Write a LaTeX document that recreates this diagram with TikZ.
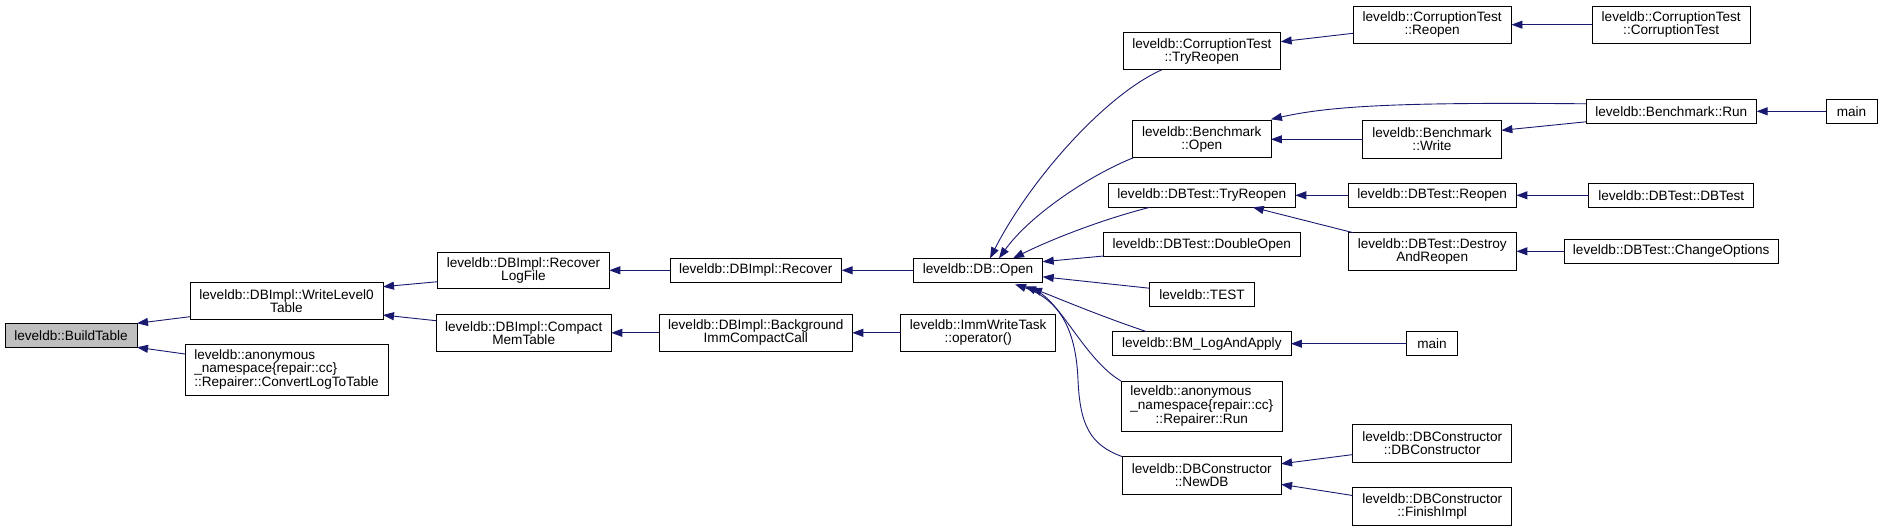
\documentclass[tikz,border=0pt]{standalone}
\usepackage{fontspec}
\setmainfont{Liberation Sans}
\usetikzlibrary{arrows.meta,calc}
\definecolor{navyc}{HTML}{191970}
\definecolor{grayfill}{HTML}{BFBFBF}
\tikzset{
  box/.style={draw=black, line width=0.9pt, inner sep=0pt, outer sep=0pt, align=center,
    font=\fontsize{13.6}{13.33}\selectfont},
  calls/.style={draw=navyc, line width=0.9pt, {Triangle[length=11pt,width=8pt]}-}
}
\begin{document}
\begin{tikzpicture}[x=1pt,y=-1pt]
\useasboundingbox (0,0) rectangle (1882,531);
\fill[white] (0,0) rectangle (1882,531);
% column 0
\node[box, fill=grayfill, minimum width=132, minimum height=24] (build) at (71,335.3) {leveldb::BuildTable};
% column 1
\node[box, minimum width=193, minimum height=36.6] (wl0) at (286.5,301) {leveldb::DBImpl::WriteLevel0\\Table};
\node[box, minimum width=203, minimum height=50.6] (conv) at (286.5,370) {\begin{tabular}{@{}l@{}}leveldb::anonymous\\\_namespace\{repair::cc\}\\::Repairer::ConvertLogToTable\end{tabular}};
% column 2
\node[box, minimum width=171.6, minimum height=36.7] (rlf) at (523.5,270.3) {leveldb::DBImpl::Recover\\LogFile};
\node[box, minimum width=175.3, minimum height=37] (cmt) at (523.7,332.8) {leveldb::DBImpl::Compact\\MemTable};
% column 3
\node[box, minimum width=171.7, minimum height=24] (recover) at (755.8,270.3) {leveldb::DBImpl::Recover};
\node[box, minimum width=193, minimum height=37] (bicc) at (755.8,332.8) {leveldb::DBImpl::Background\\ImmCompactCall};
% column 4
\node[box, minimum width=129.4, minimum height=24] (dbopen) at (978,270.3) {leveldb::DB::Open};
\node[box, minimum width=155, minimum height=37] (imm) at (978.2,332.8) {leveldb::ImmWriteTask\\::operator()};
% column 5
\node[box, minimum width=157.7, minimum height=37] (ctTry) at (1201.8,51.3) {leveldb::CorruptionTest\\::TryReopen};
\node[box, minimum width=138.3, minimum height=37] (bOpen) at (1201.8,139.3) {leveldb::Benchmark\\::Open};
\node[box, minimum width=187, minimum height=24] (dbtTry) at (1201.8,195.3) {leveldb::DBTest::TryReopen};
\node[box, minimum width=196.3, minimum height=24] (dOpen) at (1201.8,244.7) {leveldb::DBTest::DoubleOpen};
\node[box, minimum width=105.4, minimum height=24] (test) at (1202,294.2) {leveldb::TEST};
\node[box, minimum width=178.3, minimum height=24] (bm) at (1201.8,343.7) {leveldb::BM\_LogAndApply};
\node[box, minimum width=161.7, minimum height=50.7] (rrun) at (1201.8,406.3) {\begin{tabular}{@{}l@{}}leveldb::anonymous\\\_namespace\{repair::cc\}\\\multicolumn{1}{@{}c@{}}{::Repairer::Run}\end{tabular}};
\node[box, minimum width=158.7, minimum height=37.3] (newdb) at (1201.7,475.3) {leveldb::DBConstructor\\::NewDB};
% column 6
\node[box, minimum width=158.5, minimum height=37.3] (ctReopen) at (1432.2,24.7) {leveldb::CorruptionTest\\::Reopen};
\node[box, minimum width=138.7, minimum height=37.3] (bWrite) at (1432,139.3) {leveldb::Benchmark\\::Write};
\node[box, minimum width=168.4, minimum height=24] (dbtReopen) at (1432.2,195.3) {leveldb::DBTest::Reopen};
\node[box, minimum width=168.4, minimum height=37.3] (destroy) at (1432.2,251.3) {leveldb::DBTest::Destroy\\AndReopen};
\node[box, minimum width=50.6, minimum height=24] (main2) at (1432,343.7) {main};
\node[box, minimum width=159.2, minimum height=37.3] (dbc) at (1432.2,443.3) {leveldb::DBConstructor\\::DBConstructor};
\node[box, minimum width=159.2, minimum height=37.3] (fin) at (1432.2,506.3) {leveldb::DBConstructor\\::FinishImpl};
% column 7
\node[box, minimum width=157.7, minimum height=37.3] (ctCT) at (1671.2,24.7) {leveldb::CorruptionTest\\::CorruptionTest};
\node[box, minimum width=170.6, minimum height=24] (bRun) at (1671.3,111.3) {leveldb::Benchmark::Run};
\node[box, minimum width=165, minimum height=24] (dbtDBTest) at (1671.2,195.3) {leveldb::DBTest::DBTest};
\node[box, minimum width=214.3, minimum height=24] (change) at (1671.2,251.3) {leveldb::DBTest::ChangeOptions};
% column 8
\node[box, minimum width=51, minimum height=24] (main1) at (1851.5,111.3) {main};

% edges (arrow at callee)
\draw[calls] (build.north east) -- ($(wl0.west)+(0,15.7)$);
\draw[calls] (build.south east) -- ($(conv.west)+(0,-16)$);
\draw[calls] ($(wl0.east)+(0,-14.3)$) -- ($(rlf.west)+(0,11.4)$);
\draw[calls] ($(wl0.east)+(0,14)$) -- ($(cmt.west)+(0,-12.1)$);
\draw[calls] (rlf.east) -- (recover.west);
\draw[calls] (cmt.east) -- (bicc.west);
\draw[calls] (recover.east) -- (dbopen.west);
\draw[calls] (bicc.east) -- (imm.west);
\draw[calls] ($(dbopen.north)+(12,0)$) .. controls (1030,180) and (1105,95) .. ($(ctTry.south)+(-40,0)$);
\draw[calls] ($(dbopen.north)+(21,0)$) .. controls (1030,215) and (1090,175) .. ($(bOpen.south west)+(0.6,0)$);
\draw[calls] ($(dbopen.north)+(35,0)$) .. controls (1050,240) and (1100,220) .. ($(dbtTry.south)+(-52,0)$);
\draw[calls] ($(dbopen.east)+(0,-8.6)$) -- ($(dOpen.west)+(0,11.3)$);
\draw[calls] ($(dbopen.east)+(0,6.5)$) -- ($(test.west)+(0,-6)$);
\draw[calls] ($(dbopen.south)+(53,5.5)$) .. controls (1060,299) and (1100,316) .. ($(bm.north)+(-55,0)$);
\draw[calls] ($(dbopen.south)+(47,4)$) .. controls (1060,300) and (1085,360) .. (rrun.north west);
\draw[calls] ($(dbopen.south)+(37,2)$) .. controls (1060,300) and (1076,330) .. (1078,380) .. controls (1080,425) and (1090,445) .. (newdb.north west);
\draw[calls] ($(ctTry.east)+(0,-9.6)$) -- ($(ctReopen.west)+(0,8.6)$);
\draw[calls] (ctReopen.east) -- (ctCT.west);
\draw[calls] ($(bOpen.east)+(0,-20)$) .. controls (1330,106) and (1400,102) .. ($(bRun.west)+(0,-7.5)$);
\draw[calls] (bOpen.east) -- (bWrite.west);
\draw[calls] ($(bWrite.east)+(0,-9)$) -- ($(bRun.west)+(0,10.5)$);
\draw[calls] (bRun.east) -- (main1.west);
\draw[calls] (dbtTry.east) -- (dbtReopen.west);
\draw[calls] ($(dbtTry.south)+(51,0)$) -- ($(destroy.north west)+(5,0)$);
\draw[calls] (dbtReopen.east) -- (dbtDBTest.west);
\draw[calls] (destroy.east) -- (change.west);
\draw[calls] (bm.east) -- (main2.west);
\draw[calls] ($(newdb.east)+(0,-11.5)$) -- ($(dbc.west)+(0,11.3)$);
\draw[calls] ($(newdb.east)+(0,9)$) -- ($(fin.west)+(0,-10.8)$);
\end{tikzpicture}
\end{document}
